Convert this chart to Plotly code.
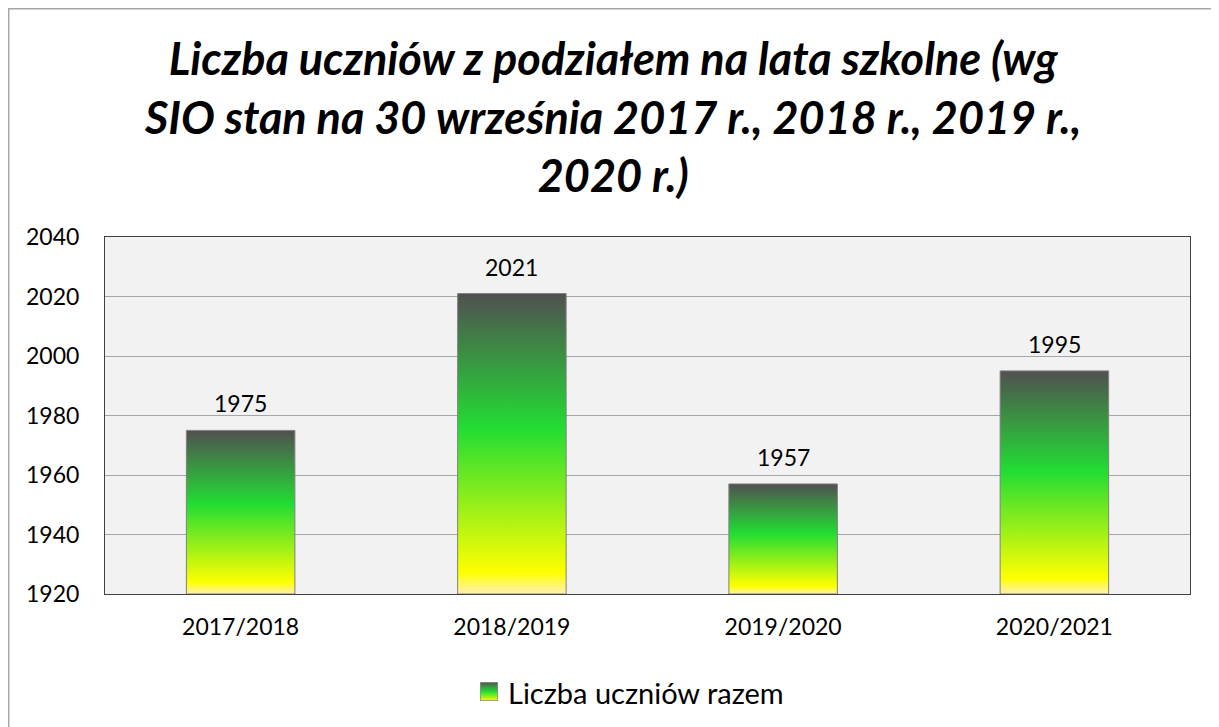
import plotly.graph_objects as go

categories = ["2017/2018", "2018/2019", "2019/2020", "2020/2021"]
values = [1975, 2021, 1957, 1995]
y_ticks = [1920, 1940, 1960, 1980, 2000, 2020, 2040]
series_name = "Liczba uczniów razem"
title_lines = ["Liczba uczniów z podziałem na lata szkolne (wg",
               "SIO stan na 30 września 2017 r., 2018 r., 2019 r.,",
               "2020 r.)"]

# the page body keeps its default 8px offset; lay out in screen pixels
OFF = 8
W, H = 1219 - OFF, 727 - OFF
ML, MR, MT, MB = 0, 2, 0, 0
PW, PH = W - ML - MR, H - MT - MB


def px_x(p):
    return (p - OFF - ML) / PW


def px_y(p):
    return (H - MB - (p - OFF)) / PH


BASE = y_ticks[0]
HALF_W = 0.2
FONT = "Lato"
grad = [[0.0, "#FFEFB8"], [0.07, "#FFFF00"], [0.55, "#22DD33"], [1.0, "#505050"]]
swatch_grad = [[0.0, "#FFFF00"], [0.5, "#22DD33"], [1.0, "#505050"]]

fig = go.Figure()
for i, (c, v) in enumerate(zip(categories, values)):
    xs = [i - HALF_W, i + HALF_W, i + HALF_W, i - HALF_W, i - HALF_W]
    ys = [BASE, BASE, v, v, BASE]
    fig.add_trace(go.Scatter(
        x=xs, y=ys, mode="lines", fill="toself",
        fillgradient=dict(type="vertical", colorscale=grad, start=BASE, stop=v),
        line=dict(color="#808080", width=1),
        name=series_name, showlegend=False, hoverinfo="skip",
    ))
    fig.add_annotation(x=i, y=v, text=str(v), showarrow=False, yshift=27,
                       font=dict(family=FONT, size=23, color="#000000"))

# legend swatch drawn in a tiny helper subplot
fig.add_trace(go.Scatter(
    x=[0, 1, 1, 0, 0], y=[0, 0, 1, 1, 0], mode="lines", fill="toself",
    fillgradient=dict(type="vertical", colorscale=swatch_grad, start=0, stop=1),
    line=dict(color="#909090", width=1.5), xaxis="x2", yaxis="y2",
    showlegend=False, hoverinfo="skip", cliponaxis=False,
))
fig.add_annotation(xref="paper", yref="paper", x=px_x(506), y=px_y(692),
                   xanchor="left", yanchor="middle", showarrow=False,
                   text=series_name, font=dict(family=FONT, size=29, color="#000000"))

fig.add_annotation(xref="paper", yref="paper", x=px_x(612), y=px_y(116),
                   xanchor="center", yanchor="middle", showarrow=False,
                   text="<b><i>" + "<br>".join(title_lines) + "</i></b>",
                   font=dict(family=FONT, size=45, color="#000000"))

fig.update_layout(
    width=W, height=H,
    margin=dict(l=ML, r=MR, t=MT, b=MB),
    paper_bgcolor="#FFFFFF", plot_bgcolor="#F2F2F2",
    showlegend=False,
    xaxis=dict(domain=[px_x(105), px_x(1190)], range=[-0.5, 3.5],
               tickvals=list(range(len(categories))),
               ticktext=categories, showgrid=False, zeroline=False,
               showline=True, linecolor="#404040", mirror=True,
               ticks="", ticklabelstandoff=12, automargin=False,
               tickfont=dict(family=FONT, size=23, color="#000000")),
    yaxis=dict(domain=[px_y(594), px_y(237)], range=[y_ticks[0], y_ticks[-1]],
               tickvals=y_ticks, automargin=False,
               showgrid=True, gridcolor="#A6A6A6", gridwidth=1, zeroline=False,
               showline=True, linecolor="#404040", mirror=True, ticks="",
               ticklabelstandoff=20,
               tickfont=dict(family=FONT, size=23, color="#000000")),
    xaxis2=dict(domain=[px_x(480), px_x(498)], range=[0, 1], visible=False,
                anchor="y2", fixedrange=True, automargin=False),
    yaxis2=dict(domain=[px_y(701), px_y(682)], range=[0, 1], visible=False,
                anchor="x2", fixedrange=True, automargin=False),
)
fig.add_shape(type="rect", xref="paper", yref="paper",
              x0=0.0006, x1=1, y0=-0.1, y1=px_y(8.8),
              line=dict(color="#A6A6A6", width=1.5), fillcolor="rgba(0,0,0,0)",
              layer="below")
fig.write_html("out.html", config={"displayModeBar": False})
